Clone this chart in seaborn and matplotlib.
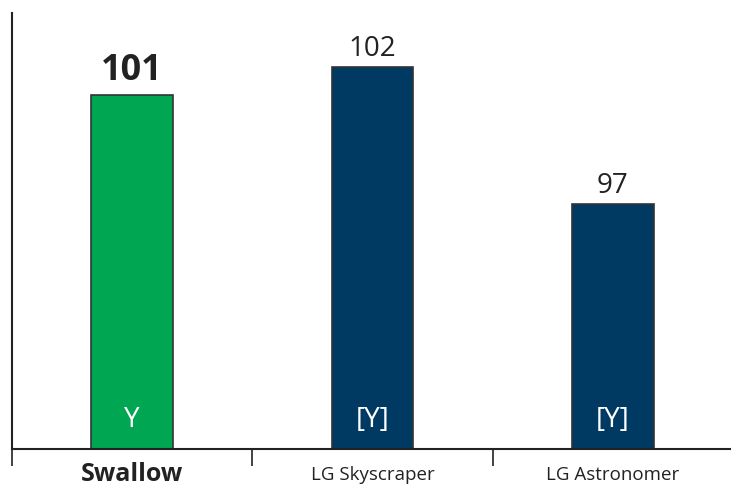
import pandas as pd
import seaborn as sns
import matplotlib.pyplot as plt
from matplotlib.ticker import FixedLocator

phones = ["Swallow", "LG Skyscraper", "LG Astronomer"]
scores = [101, 102, 97]
tags = ["Y", "[Y]", "[Y]"]
colors = ["#00A651", "#003A63", "#003A63"]

df = pd.DataFrame({"phone": phones, "score": scores})

sns.set_theme(style="white")
plt.rcParams["font.family"] = ["Open Sans", "DejaVu Sans"]

fig = plt.figure(figsize=(7.31, 4.86), dpi=100)
ax = fig.add_axes([12 / 731, 37 / 486, 721 / 731, 436 / 486])

sns.barplot(data=df, x="phone", y="score", hue="phone", palette=colors,
            width=0.34, edgecolor="#333333", linewidth=1.2, legend=False,
            saturation=1, ax=ax)

ax.set_ylim(88, 104)
ax.set_xlim(-0.5, 2.5)
ax.set_yticks([])
ax.set_xlabel("")
ax.set_ylabel("")

for s in ["top", "right"]:
    ax.spines[s].set_visible(False)
for s in ["left", "bottom"]:
    ax.spines[s].set_color("#222222")
    ax.spines[s].set_linewidth(1.5)

ax.xaxis.set_minor_locator(FixedLocator([-0.5, 0.5, 1.5, 2.5]))
ax.tick_params(axis="x", which="minor", bottom=True, length=12, width=1.2,
               color="#222222", direction="out")
ax.tick_params(axis="x", which="major", length=0)
ax.set_xticks(range(len(phones)))
ax.set_xticklabels(phones)
for i, (tick, lab) in enumerate(zip(ax.xaxis.get_major_ticks(), ax.get_xticklabels())):
    lab.set_color("#222222")
    if i == 0:
        lab.set_fontsize(18)
        lab.set_fontweight("bold")
        tick.set_pad(9)
    else:
        lab.set_fontsize(13.5)
        tick.set_pad(12)

for i, (v, t) in enumerate(zip(scores, tags)):
    if i == 0:
        ax.annotate(str(v), (i, v), xytext=(0, 4), textcoords="offset points",
                    ha="center", va="bottom", fontsize=26, fontweight="bold",
                    color="#222222")
    else:
        ax.annotate(str(v), (i, v), xytext=(0, 3), textcoords="offset points",
                    ha="center", va="bottom", fontsize=20, color="#222222")
    ax.annotate(t, (i, 88), xytext=(0, 21), textcoords="offset points",
                ha="center", va="center", fontsize=20, fontweight="medium",
                color="white")

fig.savefig("out.png", dpi=100)
